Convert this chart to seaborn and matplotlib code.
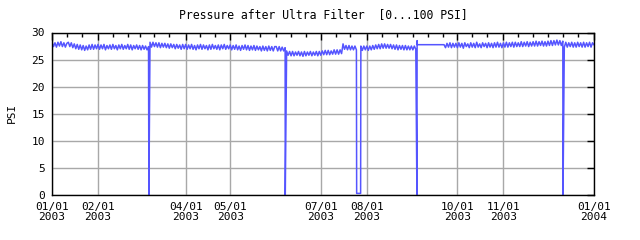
import numpy as np
import pandas as pd
import matplotlib
matplotlib.use("Agg")
import matplotlib.pyplot as plt
import matplotlib.dates as mdates
import seaborn as sns

# ---------------- data (daily readings, PSI) ----------------
start_date = "2003-01-01"
nan = float("nan")
jan = [28.2, 27.4, 28.1, 27.3, 28.2, 27.5, 28.3, 27.4, 28.1, 27.3, 28.0, 28.2, 27.4, 28.1, 27.2, 27.9,
       27.0, 27.8, 26.9, 27.7, 26.8, 27.6, 26.7, 27.5, 26.8, 27.7, 26.9, 27.8, 26.9, 27.7, 27.0]
feb = [27.8, 26.9, 27.7, 27.0, 27.8, 26.8, 27.6, 27.0, 27.7, 26.9, 27.8, 27.0, 27.6, 26.8, 27.7, 27.0,
       27.8, 26.9, 27.6, 27.0, 27.8, 26.9, 27.7, 26.8, 27.6, 27.0, 27.7, 26.9]
mar = [27.6, 26.8, 27.6, 26.9, 27.5, 26.8, 27.4, 28.2, 27.3, 28.2, 27.4, 28.1, 27.3, 28.1, 27.2, 28.0,
       27.3, 28.0, 27.2, 27.9, 27.1, 27.9, 27.2, 27.8, 27.0, 27.8, 27.1, 27.7, 26.9, 27.8, 27.0]
apr = [27.8, 26.9, 27.7, 27.0, 27.8, 26.9, 27.6, 26.8, 27.7, 27.0, 27.8, 26.9, 27.7, 27.0, 27.6, 26.8,
       27.7, 26.9, 27.8, 27.0, 27.6, 26.9, 27.7, 26.8, 27.7, 27.0, 27.8, 26.9, 27.6, 27.0]
may = [27.7, 26.8, 27.6, 26.9, 27.7, 26.8, 27.5, 26.7, 27.6, 26.9, 27.7, 26.8, 27.6, 26.7, 27.5, 26.8,
       27.6, 26.7, 27.5, 26.8, 27.4, 26.6, 27.5, 26.7, 27.4, 26.6, 27.5, 26.7, 27.4, 26.6, 27.4]
jun = [27.4, 26.6, 27.4, 26.6, 27.3, 26.6, 27.2, 26.6, 25.8, 26.5, 25.7, 26.5, 25.7, 26.4, 25.8, 26.5,
       25.7, 26.4, 25.6, 26.5, 25.7, 26.4, 25.8, 26.5, 25.7, 26.4, 25.8, 26.5, 25.7, 26.5]
jul = [25.8, 26.6, 25.9, 26.7, 25.9, 26.7, 25.9, 26.6, 26.0, 26.8, 26.0, 26.8, 26.0, 26.8, 26.1, 27.9,
       26.9, 27.6, 26.8, 27.6, 26.8, 27.5, 26.8, 27.5, 26.8, nan, nan, 27.5, 26.7, 27.5, 26.8]
aug = [27.5, 26.7, 27.5, 26.8, 27.6, 26.9, 27.7, 27.0, 27.8, 27.0, 27.9, 27.1, 27.9, 27.1, 27.8, 27.1,
       27.8, 27.0, 27.7, 26.9, 27.7, 26.8, 27.6, 26.9, 27.6, 26.8, 27.6, 26.8, 27.5, 26.8, 27.5]
sep = [26.8, 27.5, 26.9, 27.75, nan, nan, nan, nan, nan, nan, nan, nan, nan, nan, nan, nan,
       nan, nan, nan, nan, nan, 27.75, 27.2, 28.0, 27.3, 28.1, 27.2, 28.0, 27.3, 28.0]
oct_ = [27.2, 28.1, 27.3, 28.0, 27.1, 28.1, 27.4, 27.9, 27.2, 28.1, 27.3, 28.0, 27.2, 28.2, 27.3, 27.9,
        27.2, 28.1, 27.4, 28.0, 27.2, 28.1, 27.3, 28.0, 27.2, 28.1, 27.3, 28.2, 27.3, 28.0, 27.2]
nov = [28.1, 27.3, 28.2, 27.3, 28.1, 27.4, 28.2, 27.3, 28.2, 27.4, 28.1, 27.4, 28.3, 27.4, 28.2, 27.5,
       28.3, 27.4, 28.2, 27.5, 28.3, 27.5, 28.4, 27.5, 28.3, 27.6, 28.4, 27.5, 28.3, 27.5]
dec = [28.4, 27.6, 28.5, 27.6, 28.5, 27.7, 28.6, 27.7, 28.5, 27.6, 28.4, 27.3, 28.2, 27.3, 28.1, 27.4,
       28.2, 27.3, 28.1, 27.3, 28.2, 27.4, 28.1, 27.3, 28.2, 27.3, 28.1, 27.4, 28.2, 27.3, 28.1]

# irregular samples (outages / spikes)
extra_times = ["2003-03-07 06:00", "2003-06-07 02:00", "2003-07-25 04:00", "2003-07-27 20:00",
               "2003-09-03 18:00", "2003-09-03 21:00", "2003-12-11 03:00", "2004-01-01 00:00"]
extra_psi = [0.0, 0.0, 0.3, 0.3, 0.0, 28.5, 0.0, 27.7]

major_dates = ["2003-01-01", "2003-02-01", "2003-04-01", "2003-05-01", "2003-07-01",
               "2003-08-01", "2003-10-01", "2003-11-01", "2004-01-01"]
major_labels = ["01/01\n2003", "02/01\n2003", "04/01\n2003", "05/01\n2003", "07/01\n2003",
                "08/01\n2003", "10/01\n2003", "11/01\n2003", "01/01\n2004"]
y_ticks = [0, 5, 10, 15, 20, 25, 30]
title = "Pressure after Ultra Filter  [0...100 PSI]"
y_label = "PSI"

# ---------------- build frame ----------------
daily = jan + feb + mar + apr + may + jun + jul + aug + sep + oct_ + nov + dec
df_daily = pd.DataFrame({"time": pd.date_range(start_date, periods=len(daily), freq="D"),
                         "psi": daily})
df_extra = pd.DataFrame({"time": pd.to_datetime(extra_times), "psi": extra_psi})
df = pd.concat([df_daily, df_extra]).dropna().sort_values("time").reset_index(drop=True)

# ---------------- plot ----------------
sns.set_theme(style="white")
plt.rcParams["font.family"] = ["DejaVu Sans Mono"]
plt.rcParams["text.color"] = "black"
plt.rcParams["xtick.color"] = "black"
plt.rcParams["ytick.color"] = "black"

fig = plt.figure(figsize=(6.4, 2.4), dpi=100)
ax = fig.add_axes([52 / 640, 45 / 240, 542 / 640, 162.5 / 240])

sns.lineplot(data=df, x="time", y="psi", ax=ax, color="#5555ff", linewidth=1.1,
             estimator=None, sort=False)

ax.set_xlim(pd.Timestamp("2003-01-01"), pd.Timestamp("2004-01-01"))
ax.set_ylim(0, 30)

maj = pd.to_datetime(major_dates)
ax.set_xticks(mdates.date2num(maj))
ax.set_xticklabels(major_labels)
minor = []
for m in pd.date_range("2003-01-01", "2003-12-01", freq="MS"):
    for d in (1, 11, 21):
        t = m + pd.Timedelta(days=d - 1)
        if t not in set(maj):
            minor.append(t)
ax.set_xticks(mdates.date2num(pd.to_datetime(minor)), minor=True)
ax.set_yticks(y_ticks)

ax.grid(True, which="major", color="#a8a8a8", linewidth=1)
ax.set_axisbelow(True)
for s in ax.spines.values():
    s.set_color("black")
    s.set_linewidth(1)
ax.tick_params(which="major", direction="in", top=True, right=True, length=5, width=1,
               labelsize=8, pad=5, color="black", labelcolor="black")
ax.tick_params(which="minor", direction="in", top=True, right=False, length=3, width=1,
               color="black")
ax.tick_params(axis="y", which="minor", left=False, right=False)
for lbl in ax.get_xticklabels():
    lbl.set_linespacing(0.95)

ax.set_xlabel("")
ax.set_ylabel("")
fig.text(12 / 640, 1 - 113 / 240, y_label, rotation=90, ha="center", va="center",
         fontsize=8, color="black")
fig.text(323 / 640, 1 - 15 / 240, title, ha="center", va="center", fontsize=8.3, color="black")

fig.savefig("out.png", dpi=100)
